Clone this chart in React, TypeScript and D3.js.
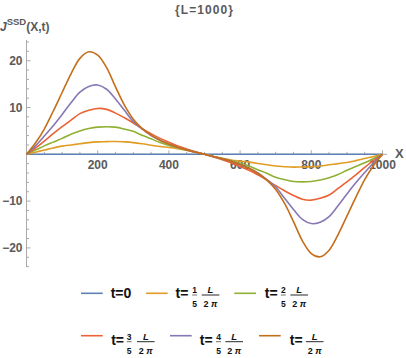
import React from 'react';
import * as d3 from 'd3';

// sample positions along X (0 .. L)
const xs = [
  0, 25, 50, 75, 100, 125, 150, 175, 200, 225, 250, 275, 300, 325, 350, 375, 400, 425, 450, 475, 500,
  525, 550, 575, 600, 625, 650, 675, 700, 725, 750, 775, 800, 825, 850, 875, 900, 925, 950, 975, 1000,
];

// J^SSD values, one list per time
const t0 = [
  0, 0, 0, 0, 0, 0, 0, 0, 0, 0, 0, 0, 0, 0, 0, 0, 0, 0, 0, 0, 0,
  0, 0, 0, 0, 0, 0, 0, 0, 0, 0, 0, 0, 0, 0, 0, 0, 0, 0, 0, 0,
];
const t1 = [
  0, 0.45, 0.9, 1.35, 1.75, 2.0, 2.25, 2.5, 2.65, 2.7, 2.75, 2.65, 2.5, 2.25, 1.95, 1.68, 1.45, 1.2, 0.85, 0.45, 0,
  -0.45, -0.85, -1.2, -1.45, -1.68, -1.95, -2.25, -2.5, -2.65, -2.75, -2.7, -2.65, -2.5, -2.25, -2.0, -1.75, -1.35, -0.9, -0.45, 0,
];
const t2 = [
  0, 0.9, 1.8, 2.6, 3.4, 4.3, 5.0, 5.5, 5.8, 5.9, 5.8, 5.4, 4.9, 4.05, 3.3, 2.5, 1.9, 1.4, 0.9, 0.45, 0,
  -0.45, -0.9, -1.4, -1.9, -2.5, -3.3, -4.05, -4.9, -5.4, -5.8, -5.9, -5.8, -5.5, -5.0, -4.3, -3.4, -2.6, -1.8, -0.9, 0,
];
const t3 = [
  0, 1.3, 2.8, 4.4, 5.9, 7.3, 8.7, 9.4, 9.8, 9.6, 8.8, 7.8, 6.7, 5.5, 4.4, 3.4, 2.6, 1.8, 1.15, 0.55, 0,
  -0.55, -1.15, -1.8, -2.6, -3.4, -4.4, -5.5, -6.7, -7.8, -8.8, -9.6, -9.8, -9.4, -8.7, -7.3, -5.9, -4.4, -2.8, -1.3, 0,
];
const t4 = [
  0, 1.8, 3.9, 6.1, 8.5, 11.0, 13.3, 14.5, 14.8, 13.9, 11.8, 9.4, 7.0, 5.4, 4.0, 3.0, 2.2, 1.5, 0.95, 0.45, 0,
  -0.45, -0.95, -1.5, -2.2, -3.0, -4.0, -5.4, -7.0, -9.4, -11.8, -13.9, -14.8, -14.5, -13.3, -11.0, -8.5, -6.1, -3.9, -1.8, 0,
];
const t5 = [
  0, 2.4, 5.4, 9.2, 13.2, 17.2, 20.5, 21.9, 21.2, 18.5, 14.4, 10.5, 7.5, 5.5, 4.1, 3.0, 2.2, 1.5, 0.95, 0.45, 0,
  -0.45, -0.95, -1.5, -2.2, -3.0, -4.1, -5.5, -7.5, -10.5, -14.4, -18.5, -21.2, -21.9, -20.5, -17.2, -13.2, -9.2, -5.4, -2.4, 0,
];

const seriesList = [t0, t1, t2, t3, t4, t5];
const colors = ['#5E81B5', '#E19C24', '#8FB032', '#EB6235', '#8778B3', '#C56E1A'];

const xTicks = [200, 400, 600, 800, 1000];
const xMinor = [50, 100, 150, 250, 300, 350, 450, 500, 550, 650, 700, 750, 850, 900, 950];
const yTicks = [-20, -10, 10, 20];
const yMinor = [-24, -22, -18, -16, -14, -12, -8, -6, -4, -2, 2, 4, 6, 8, 12, 14, 16, 18, 22, 24];

const numerators = ['', '1', '2', '3', '4', ''];

const x = d3.scaleLinear().domain([0, 1000]).range([26.5, 382.5]);
const y = d3.scaleLinear().domain([-20, 20]).range([247.9, 60.7]);

const line = d3
  .line<number>()
  .x((_, i) => x(xs[i]))
  .y(d => y(d))
  .curve(d3.curveCatmullRom.alpha(0.5));

const axisColor = '#aaaaaa';
const labelColor = '#5a5a5a';
const font = "'Liberation Sans', Arial, sans-serif";

const legendItems = [
  { lx: 81, ly: 293.3, tx: 110.7, base: 298.3, numX: 0, fracX: 0 },
  { lx: 146, ly: 293.3, tx: 175.5, base: 298.3, numX: 194.7, fracX: 210.5 },
  { lx: 234.3, ly: 293.3, tx: 264.8, base: 298.3, numX: 283.3, fracX: 299.2 },
  { lx: 81, ly: 335.7, tx: 111.2, base: 345, numX: 129.2, fracX: 145.8 },
  { lx: 170, ly: 335.7, tx: 199.8, base: 345, numX: 218.5, fracX: 234.2 },
  { lx: 259, ly: 335.7, tx: 289.8, base: 345, numX: 0, fracX: 314.7 },
];

const LegendEntry = ({ i }: { i: number }) => {
  const it = legendItems[i];
  const barY = it.base - 3.3;
  return (
    <g fontFamily={font} fontWeight="bold" fill="#111">
      <line x1={it.lx} x2={it.lx + 21.7} y1={it.ly} y2={it.ly} stroke={colors[i]} strokeWidth={1.6} />
      {i === 0 ? (
        <text x={it.tx} y={it.base} fontSize={14}>t=0</text>
      ) : (
        <>
          <text x={it.tx} y={it.base} fontSize={14}>t=</text>
          {numerators[i] && (
            <>
              <text x={it.numX} y={barY - 1.6} fontSize={8.5} textAnchor="middle">{numerators[i]}</text>
              <line x1={it.numX - 2.5} x2={it.numX + 2.5} y1={barY} y2={barY} stroke="#111" strokeWidth={0.6} />
              <text x={it.numX} y={barY + 12.4} fontSize={8.5} textAnchor="middle">5</text>
            </>
          )}
          <text x={it.fracX} y={barY - 1.6} fontSize={9.5} fontStyle="italic" textAnchor="middle">L</text>
          <line x1={it.fracX - 8.8} x2={it.fracX + 8.8} y1={barY} y2={barY} stroke="#111" strokeWidth={0.9} />
          <text x={it.fracX} y={barY + 12.4} fontSize={9} textAnchor="middle">
            2 <tspan fontStyle="italic">π</tspan>
          </text>
        </>
      )}
    </g>
  );
};

export default function App() {
  return (
    <div style={{ position: 'absolute', left: 0, top: 0 }}>
      <svg width={406} height={358} style={{ display: 'block', background: '#fff' }}>
        {/* title */}
        <text x={204} y={14} fontFamily={font} fontWeight="bold" fontSize={12} fill={labelColor}
          textAnchor="middle" textLength={58} lengthAdjust="spacing">{'{L=1000}'}</text>

        {/* y axis label */}
        <text x={0} y={31} fontFamily={font} fontWeight="bold" fill={labelColor} fontSize={12}>
          <tspan fontStyle="italic">J</tspan>
          <tspan fontSize={9.5} dy={-6}>SSD</tspan>
          <tspan dy={6}>(X,t)</tspan>
        </text>

        {/* axes */}
        <line x1={x(0)} x2={387} y1={y(0)} y2={y(0)} stroke={axisColor} strokeWidth={1} />
        <line x1={x(0)} x2={x(0)} y1={40} y2={267} stroke={axisColor} strokeWidth={1} />

        {xTicks.map(t => (
          <g key={'xt' + t}>
            <line x1={x(t)} x2={x(t)} y1={y(0)} y2={y(0) - 4} stroke={axisColor} />
            <text x={x(t)} y={169.3} fontFamily={font} fontWeight="bold" fontSize={12} fill={labelColor}
              textAnchor="middle">{t}</text>
          </g>
        ))}
        {xMinor.map(t => (
          <line key={'xm' + t} x1={x(t)} x2={x(t)} y1={y(0)} y2={y(0) - 2.5} stroke={axisColor} />
        ))}
        {yTicks.map(t => (
          <g key={'yt' + t}>
            <line x1={x(0)} x2={x(0) + 4} y1={y(t)} y2={y(t)} stroke={axisColor} />
            <text x={22.5} y={y(t) + 4.2} fontFamily={font} fontWeight="bold" fontSize={12} fill={labelColor}
              textAnchor="end">{t < 0 ? '\u2212' + Math.abs(t) : t}</text>
          </g>
        ))}
        {yMinor.map(t => (
          <line key={'ym' + t} x1={x(0)} x2={x(0) + 2.5} y1={y(t)} y2={y(t)} stroke={axisColor} />
        ))}

        <text x={395} y={157.5} fontFamily={font} fontWeight="bold" fontSize={13} fill={labelColor}>X</text>

        {/* curves */}
        {seriesList.map((s, i) => (
          <path key={i} d={line(s) || ''} fill="none" stroke={colors[i]} strokeWidth={1.6} />
        ))}

        {/* legend */}
        {legendItems.map((_, i) => (
          <LegendEntry key={i} i={i} />
        ))}
      </svg>
    </div>
  );
}
